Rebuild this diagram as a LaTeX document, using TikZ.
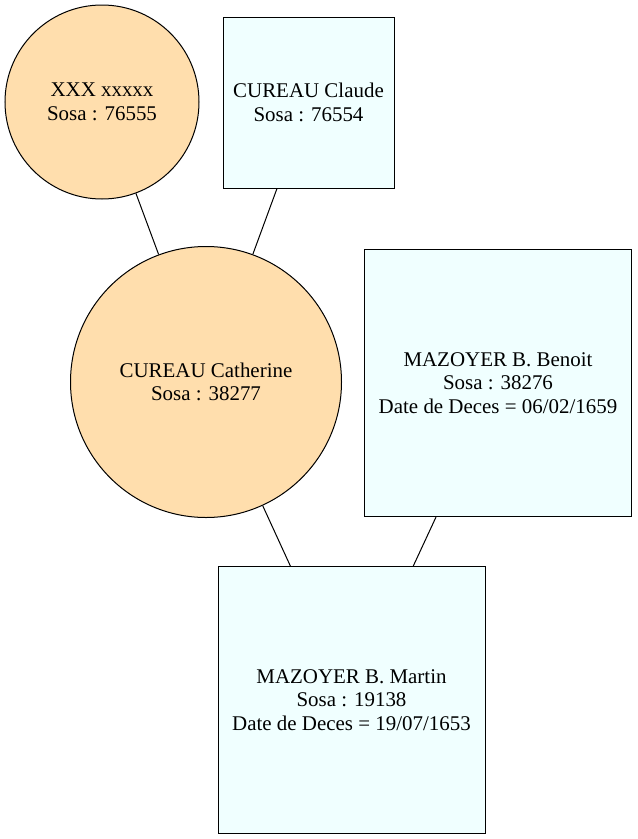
\documentclass[tikz,border=0pt]{standalone}
\usepackage{fontspec}
\setmainfont{Liberation Serif}
\usepackage{xcolor}
\definecolor{navajo}{RGB}{255,222,173}
\definecolor{azur}{RGB}{240,255,255}

\begin{document}
\begin{tikzpicture}[x=0.75pt,y=-0.75pt,
        femme/.style={draw, circle, fill=navajo, inner sep=0pt, align=center, line width=0.75pt},
        homme/.style={draw, rectangle, fill=azur, inner sep=0pt, align=center, line width=0.75pt},
        lien/.style={line width=0.75pt}]
        \useasboundingbox (0,0) rectangle (637,839);

        \fontsize{15.7}{17.6}\selectfont
        % Personnes
        \node[femme, minimum size=145.5pt]  (xxx)       at (102,102)   {XXX xxxxx\\Sosa : 76555};
        \node[homme, minimum size=128.25pt] (claude)    at (308.5,102.5) {CUREAU Claude\\Sosa : 76554};
        \node[femme, minimum size=203.25pt] (catherine) at (206,382)   {CUREAU Catherine\\Sosa : 38277};
        \node[homme, minimum size=200.25pt] (benoit)    at (498,383)   {MAZOYER B. Benoit\\Sosa : 38276\\Date de Deces = 06/02/1659};
        \node[homme, minimum size=200.25pt] (martin)    at (351.5,700) {MAZOYER B. Martin\\Sosa : 19138\\Date de Deces = 19/07/1653};

        % Liens
        \draw[lien] (xxx)       -- (catherine);
        \draw[lien] (claude)    -- (catherine);
        \draw[lien] (catherine) -- (martin);
        \draw[lien] (benoit)    -- (martin);
\end{tikzpicture}
\end{document}
